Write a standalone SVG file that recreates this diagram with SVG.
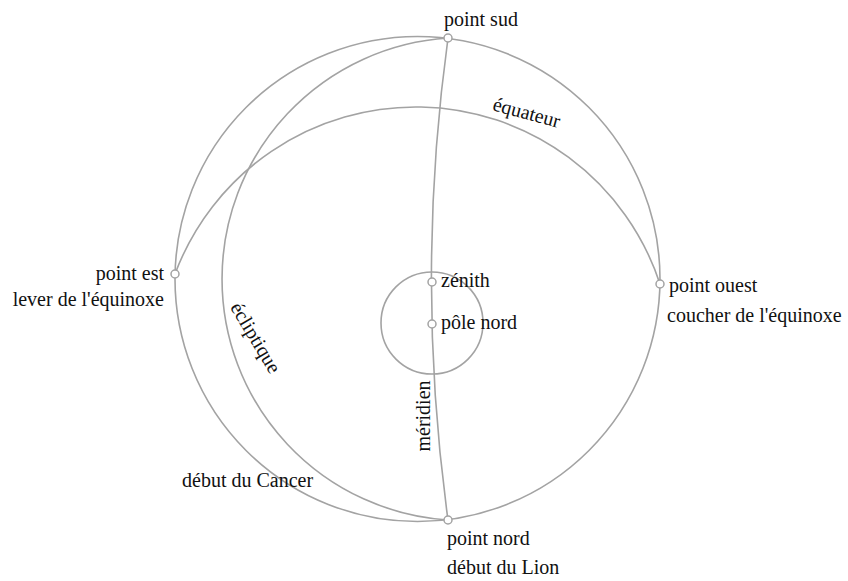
<svg xmlns="http://www.w3.org/2000/svg" width="848" height="581" viewBox="0 0 848 581">
  <style>
    .ln { fill: none; stroke: #a3a3a3; stroke-width: 1.6; }
    .pt { fill: #ffffff; stroke: #a3a3a3; stroke-width: 1.5; }
    text { font-family: "Liberation Serif", "Times New Roman", serif; font-size: 20px; fill: #111111; }
    .e { text-anchor: end; }
    .m { text-anchor: middle; }
  </style>
  <rect width="848" height="581" fill="#ffffff"/>
  <g id="connectors">
    <circle id="horizon" class="ln" cx="417.5" cy="279" r="242.5"/>
    <path id="equateur-line" class="ln" d="M175,274 A257,257 0 0 1 660,284"/>
    <path id="ecliptique-line" class="ln" d="M448,38 A241.5,241.5 0 0 0 448,520"/>
    <path id="meridien-line" class="ln" d="M448,38 A1768,1768 0 0 0 448,520"/>
    <circle id="cercle-polaire" class="ln" cx="432" cy="323" r="51"/>
  </g>
  <g id="point-sud"><circle class="pt" cx="448" cy="38" r="4"/><text x="444" y="26">point sud</text></g>
  <g id="point-est"><circle class="pt" cx="175" cy="274" r="4"/><text class="e" x="164" y="280">point est</text><text class="e" x="164" y="306">lever de l'équinoxe</text></g>
  <g id="point-ouest"><circle class="pt" cx="660" cy="284" r="4"/><text x="669" y="292">point ouest</text><text x="667" y="322">coucher de l'équinoxe</text></g>
  <g id="point-nord"><circle class="pt" cx="448" cy="520" r="4"/><text x="447" y="545">point nord</text><text x="447" y="574">début du Lion</text></g>
  <g id="zenith"><circle class="pt" cx="432" cy="282" r="4"/><text x="441" y="287">zénith</text></g>
  <g id="pole-nord"><circle class="pt" cx="432" cy="324" r="4"/><text x="441" y="329">pôle nord</text></g>
  <g id="debut-cancer"><text x="182" y="487">début du Cancer</text></g>
  <g id="labels">
    <text class="m" transform="translate(525,119) rotate(15)">équateur</text>
    <text class="m" transform="translate(250,341) rotate(59)">écliptique</text>
    <text class="m" transform="translate(430,416) rotate(-90)">méridien</text>
  </g>
</svg>
